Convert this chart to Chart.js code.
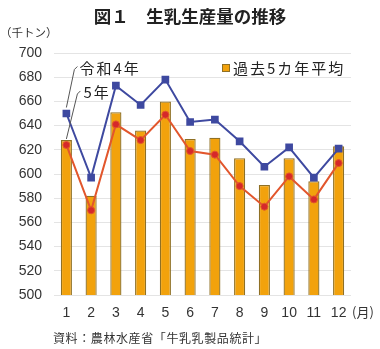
<!DOCTYPE html>
<html>
<head>
<meta charset="utf-8">
<script src="https://cdn.jsdelivr.net/npm/chart.js@4/dist/chart.umd.min.js"></script>
<style>
  html, body { margin: 0; padding: 0; background: #fff; }
  #wrap { width: 380px; height: 349px; position: relative; }
</style>
</head>
<body>
<div id="wrap"><canvas id="c" width="380" height="349"></canvas></div>
<script>
// 生乳生産量（千トン）
const months = ['1', '2', '3', '4', '5', '6', '7', '8', '9', '10', '11', '12'];
const avg5yr = [628, 582, 651, 636, 660, 629, 630, 613, 591, 613, 594, 623];   // 過去5カ年平均
const reiwa4 = [650, 597, 673, 657, 678, 643, 645, 627, 606, 622, 597, 621];   // 令和4年
const reiwa5 = [624, 570, 641, 628, 649, 619, 616, 590, 573, 598, 579, 609];   // 5年
const yTicks = [500, 520, 540, 560, 580, 600, 620, 640, 660, 680, 700];

const JP = '"Noto Sans CJK JP", "Noto Sans", sans-serif';
const NUM = '"Liberation Sans", "Noto Sans CJK JP", sans-serif';

const BAR_FILL = '#f2a20c';
const BAR_EDGE = '#8f7025';
const BLUE = '#3e49a0';
const RED = '#e2562c';
const RED_PT = '#d6282a';

// 見出し・凡例・注記・出典を描くプラグイン
const decorations = {
  id: 'decorations',
  afterDatasetsDraw(chart) {
    const ctx = chart.ctx;
    const area = chart.chartArea;
    ctx.save();

    // タイトル
    ctx.fillStyle = '#222';
    ctx.font = 'bold 17.5px ' + JP;
    ctx.textAlign = 'center';
    ctx.textBaseline = 'middle';
    ctx.fillText('図１　生乳生産量の推移', 190, 16);

    // 単位
    ctx.font = '11.5px ' + JP;
    ctx.fillStyle = '#333';
    ctx.textAlign = 'left';
    ctx.fillText('（千トン）', 0, 33);
    ctx.font = '13px ' + JP;
    ctx.fillText('(月)', area.right + 1, 312);

    // 出典
    ctx.font = '12px ' + JP;
    ctx.letterSpacing = '0.6px';
    ctx.fillStyle = '#333';
    ctx.fillText('資料：農林水産省「牛乳乳製品統計」', 53, 338);

    // 凡例（過去5カ年平均）
    ctx.letterSpacing = '0px';
    ctx.fillStyle = BAR_FILL;
    ctx.strokeStyle = BAR_EDGE;
    ctx.lineWidth = 1;
    ctx.fillRect(222.5, 64.5, 7, 7);
    ctx.strokeRect(222.5, 64.5, 7, 7);
    ctx.fillStyle = '#222';
    ctx.font = '15px ' + JP;
    ctx.letterSpacing = '2px';
    ctx.fillText('過去5カ年平均', 233, 68);

    // 折れ線の注記（引出線つき）
    ctx.letterSpacing = '0px';
    const p4 = chart.getDatasetMeta(1).data[0];
    const p5 = chart.getDatasetMeta(2).data[0];
    ctx.strokeStyle = '#555';
    ctx.lineWidth = 1;
    ctx.beginPath();
    ctx.moveTo(p4.x, p4.y - 6);
    ctx.lineTo(p4.x + 8, p4.y - 44);
    ctx.lineTo(p4.x + 11, p4.y - 47);
    ctx.stroke();
    ctx.beginPath();
    ctx.moveTo(p5.x, p5.y - 6);
    ctx.lineTo(p5.x + 11, p5.y - 51);
    ctx.lineTo(p5.x + 14, p5.y - 54);
    ctx.stroke();

    ctx.fillStyle = '#222';
    ctx.font = '15px ' + JP;
    ctx.letterSpacing = '2px';
    ctx.fillText('令和4年', p4.x + 13, p4.y - 45);
    ctx.fillText('5年', p5.x + 17, p5.y - 53);

    ctx.restore();
  }
};

new Chart(document.getElementById('c'), {
  data: {
    labels: months,
    datasets: [
      {
        type: 'bar',
        label: '過去5カ年平均',
        data: avg5yr,
        backgroundColor: BAR_FILL,
        borderColor: BAR_EDGE,
        borderWidth: 1.3,
        barPercentage: 0.45,
        categoryPercentage: 1,
        order: 3
      },
      {
        type: 'line',
        label: '令和4年',
        data: reiwa4,
        borderColor: BLUE,
        borderWidth: 2,
        pointStyle: 'rect',
        pointRadius: 4,
        pointBackgroundColor: BLUE,
        pointBorderColor: BLUE,
        tension: 0,
        order: 2
      },
      {
        type: 'line',
        label: '5年',
        data: reiwa5,
        borderColor: RED,
        borderWidth: 2,
        pointStyle: 'circle',
        pointRadius: 3.5,
        pointBackgroundColor: RED_PT,
        pointBorderColor: RED,
        pointBorderWidth: 1,
        tension: 0,
        order: 1
      }
    ]
  },
  options: {
    responsive: false,
    animation: false,
    devicePixelRatio: 1,
    layout: { padding: { top: 53, right: 29, bottom: 24, left: 0 } },
    plugins: {
      legend: { display: false },
      title: { display: false },
      tooltip: { enabled: false }
    },
    scales: {
      x: {
        grid: { display: false, drawTicks: false },
        border: { display: false },
        ticks: {
          color: '#333',
          font: { family: NUM, size: 14 },
          padding: 10,
          maxRotation: 0
        },
        afterFit(scale) { scale.height = 30; }
      },
      y: {
        min: 500,
        max: 700,
        afterBuildTicks(scale) { scale.ticks = yTicks.map(v => ({ value: v })); },
        grid: { color: '#e4e4e4', lineWidth: 1, drawTicks: false },
        border: { display: false },
        ticks: {
          color: '#333',
          font: { family: NUM, size: 14 },
          padding: 12
        },
        afterFit(scale) { scale.width = 54; }
      }
    }
  },
  plugins: [decorations]
});
</script>
</body>
</html>
